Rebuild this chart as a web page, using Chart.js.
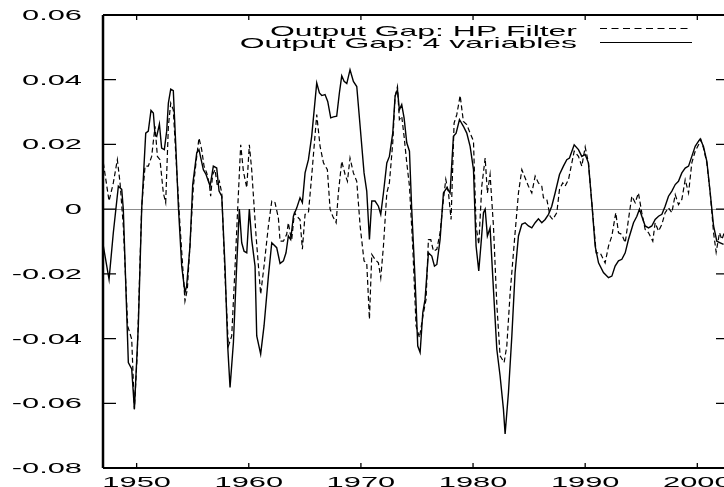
<!DOCTYPE html>
<html>
<head>
<meta charset="utf-8">
<script src="https://cdn.jsdelivr.net/npm/chart.js@4/dist/chart.umd.min.js"></script>
<style>
  html, body { margin: 0; padding: 0; background: #fff; }
  #wrap { width: 724px; height: 487px; position: relative; }
</style>
</head>
<body>
<div id="wrap"><canvas id="gapChart"></canvas></div>
<script>
// year ticks and gap ticks on the axes
const yearTicks = [1950, 1960, 1970, 1980, 1990, 2000];
const gapTicks = [0.06, 0.04, 0.02, 0, -0.02, -0.04, -0.06, -0.08];
const gapTickLabels = ["0.06", "0.04", "0.02", "0", "-0.02", "-0.04", "-0.06", "-0.08"];
const seriesNames = ["Output Gap: HP Filter", "Output Gap: 4 variables"];

// Output gap, HP filter (dashed)
const hpYears = [1947.03,1947.54,1947.92,1948.28,1948.52,1948.81,1949.20,1949.56,1949.80,1950.06,1950.45,1950.75,1951.04,1951.34,1951.64,1951.85,1952.08,1952.38,1952.59,1952.83,1953.04,1953.27,1953.57,1953.87,1954.31,1954.52,1954.82,1955.06,1955.36,1955.56,1955.80,1956.01,1956.25,1956.49,1956.60,1956.78,1956.99,1957.20,1957.38,1957.59,1957.88,1958.18,1958.48,1958.78,1959.01,1959.28,1959.52,1959.82,1960.05,1960.26,1960.65,1961.06,1961.36,1961.75,1962.05,1962.34,1962.64,1962.79,1963.09,1963.38,1963.53,1963.68,1963.83,1964.07,1964.28,1964.57,1964.78,1965.02,1965.32,1965.61,1966.06,1966.36,1966.66,1967.01,1967.25,1967.49,1967.79,1967.99,1968.29,1968.59,1968.80,1969.03,1969.33,1969.63,1969.93,1970.28,1970.52,1970.76,1970.97,1971.26,1971.56,1971.77,1972.01,1972.31,1972.54,1972.84,1973.05,1973.26,1973.43,1973.64,1973.85,1974.09,1974.33,1974.62,1974.92,1975.22,1975.58,1975.81,1976.02,1976.23,1976.47,1976.77,1977.06,1977.36,1977.57,1977.81,1978.04,1978.31,1978.55,1978.85,1979.14,1979.44,1979.74,1980.04,1980.27,1980.51,1980.78,1981.08,1981.28,1981.52,1981.82,1982.12,1982.41,1982.77,1983.01,1983.31,1983.75,1984.05,1984.35,1984.64,1984.94,1985.24,1985.54,1985.83,1986.13,1986.28,1986.58,1986.87,1987.11,1987.47,1987.71,1988.00,1988.21,1988.51,1989.02,1989.40,1989.70,1990.00,1990.29,1990.59,1990.98,1991.34,1991.78,1992.08,1992.38,1992.73,1992.97,1993.27,1993.57,1993.86,1994.16,1994.46,1994.75,1995.05,1995.35,1995.65,1996.03,1996.24,1996.54,1996.84,1997.13,1997.43,1997.73,1998.03,1998.32,1998.62,1998.92,1999.22,1999.51,1999.81,2000.11,2000.32,2000.55,2000.85,2001.15,2001.45,2001.68,2001.98,2002.19,2002.40];
const hpGap = [0.0143,0.0025,0.0081,0.0153,0.0081,-0.0052,-0.0361,-0.0402,-0.0618,-0.0443,0.0009,0.0133,0.0133,0.0163,0.0256,0.0163,0.0153,0.0050,0.0020,0.0256,0.0328,0.0307,0.0122,-0.0052,-0.0284,-0.0248,-0.0073,0.0071,0.0163,0.0220,0.0184,0.0133,0.0112,0.0076,0.0040,0.0107,0.0122,0.0071,0.0086,0.0050,-0.0207,-0.0423,-0.0392,-0.0176,0.0000,0.0199,0.0117,0.0066,0.0199,0.0122,-0.0083,-0.0263,-0.0176,-0.0052,0.0025,0.0020,-0.0027,-0.0099,-0.0099,-0.0078,-0.0042,-0.0073,-0.0094,-0.0011,-0.0022,-0.0032,-0.0124,-0.0016,-0.0011,0.0102,0.0292,0.0194,0.0143,0.0122,0.0000,-0.0022,-0.0042,0.0050,0.0148,0.0107,0.0086,0.0158,0.0112,0.0086,-0.0052,-0.0160,-0.0166,-0.0340,-0.0140,-0.0155,-0.0166,-0.0212,-0.0114,0.0050,0.0081,0.0205,0.0349,0.0379,0.0277,0.0287,0.0225,0.0143,0.0071,-0.0114,-0.0361,-0.0397,-0.0320,-0.0279,-0.0094,-0.0094,-0.0130,-0.0124,-0.0073,0.0030,0.0092,0.0050,-0.0032,0.0266,0.0292,0.0351,0.0271,0.0261,0.0235,0.0210,-0.0052,-0.0109,0.0071,0.0158,0.0050,0.0107,-0.0052,-0.0294,-0.0453,-0.0474,-0.0423,-0.0258,-0.0073,0.0050,0.0122,0.0097,0.0071,0.0050,0.0102,0.0081,0.0071,0.0035,0.0030,-0.0022,-0.0032,-0.0011,0.0061,0.0081,0.0071,0.0091,0.0179,0.0163,0.0133,0.0192,0.0143,0.0020,-0.0135,-0.0135,-0.0166,-0.0114,-0.0083,-0.0011,-0.0073,-0.0078,-0.0104,-0.0032,0.0040,0.0020,0.0050,-0.0011,-0.0063,-0.0073,-0.0099,-0.0042,-0.0068,-0.0047,-0.0011,0.0004,-0.0011,0.0045,0.0014,0.0030,0.0091,0.0050,0.0143,0.0179,0.0199,0.0215,0.0189,0.0143,0.0050,-0.0073,-0.0133,-0.0073,-0.0094,-0.0073];

// Output gap, 4 variables (solid)
const fourVarYears = [1947.03,1947.54,1947.92,1948.37,1948.67,1948.81,1949.26,1949.56,1949.80,1950.15,1950.45,1950.81,1951.04,1951.28,1951.49,1951.64,1951.79,1952.03,1952.23,1952.47,1952.68,1952.83,1953.04,1953.27,1953.48,1953.72,1954.02,1954.31,1954.46,1954.76,1955.00,1955.36,1955.56,1955.95,1956.19,1956.55,1956.84,1957.14,1957.35,1957.59,1957.88,1958.12,1958.33,1958.63,1958.92,1959.16,1959.37,1959.58,1959.82,1960.05,1960.26,1960.56,1960.71,1961.06,1961.36,1961.75,1962.05,1962.49,1962.79,1963.09,1963.32,1963.53,1963.74,1963.98,1964.28,1964.57,1964.78,1965.02,1965.32,1965.61,1966.06,1966.30,1966.51,1966.80,1967.04,1967.31,1967.55,1967.84,1968.08,1968.29,1968.50,1968.74,1969.03,1969.33,1969.63,1969.93,1970.28,1970.52,1970.76,1970.97,1971.26,1971.56,1971.77,1972.01,1972.31,1972.54,1972.84,1973.05,1973.26,1973.43,1973.64,1973.85,1974.09,1974.33,1974.53,1974.83,1975.07,1975.28,1975.52,1975.72,1976.02,1976.32,1976.56,1976.77,1977.06,1977.36,1977.66,1977.95,1978.25,1978.49,1978.79,1979.14,1979.44,1979.74,1980.04,1980.27,1980.51,1980.72,1980.93,1981.08,1981.28,1981.52,1981.82,1982.12,1982.41,1982.71,1982.86,1983.16,1983.46,1983.75,1984.05,1984.35,1984.64,1984.94,1985.24,1985.54,1985.83,1986.13,1986.43,1986.73,1987.02,1987.32,1987.71,1988.06,1988.36,1988.60,1989.02,1989.40,1989.70,1990.00,1990.29,1990.59,1990.89,1991.19,1991.63,1992.08,1992.38,1992.67,1992.97,1993.27,1993.57,1993.86,1994.31,1994.61,1994.84,1995.05,1995.35,1995.65,1995.94,1996.24,1996.54,1996.84,1997.13,1997.43,1997.73,1998.03,1998.32,1998.62,1998.92,1999.22,1999.51,1999.81,2000.11,2000.26,2000.55,2000.85,2001.15,2001.45,2001.74,2002.04,2002.34];
const fourVarGap = [-0.0114,-0.0217,-0.0073,0.0071,0.0061,0.0000,-0.0474,-0.0494,-0.0618,-0.0361,0.0000,0.0235,0.0241,0.0305,0.0297,0.0230,0.0225,0.0263,0.0189,0.0184,0.0241,0.0328,0.0371,0.0366,0.0205,0.0009,-0.0176,-0.0258,-0.0237,-0.0114,0.0076,0.0174,0.0184,0.0122,0.0107,0.0071,0.0133,0.0127,0.0056,0.0040,-0.0176,-0.0423,-0.0551,-0.0412,-0.0176,0.0000,-0.0104,-0.0130,-0.0135,0.0000,-0.0094,-0.0176,-0.0392,-0.0448,-0.0361,-0.0207,-0.0104,-0.0119,-0.0168,-0.0160,-0.0135,-0.0083,-0.0094,-0.0022,0.0004,0.0035,0.0020,0.0112,0.0153,0.0225,0.0390,0.0359,0.0351,0.0354,0.0333,0.0282,0.0285,0.0287,0.0359,0.0412,0.0395,0.0388,0.0431,0.0395,0.0379,0.0256,0.0112,0.0056,-0.0094,0.0025,0.0025,0.0009,-0.0016,0.0050,0.0143,0.0163,0.0235,0.0349,0.0369,0.0307,0.0323,0.0282,0.0205,0.0179,0.0000,-0.0217,-0.0423,-0.0443,-0.0320,-0.0279,-0.0135,-0.0145,-0.0176,-0.0171,-0.0094,0.0050,0.0066,0.0050,0.0225,0.0235,0.0277,0.0256,0.0235,0.0194,0.0122,-0.0114,-0.0191,-0.0104,-0.0011,0.0000,-0.0083,-0.0058,-0.0248,-0.0433,-0.0515,-0.0618,-0.0695,-0.0566,-0.0392,-0.0196,-0.0083,-0.0047,-0.0042,-0.0052,-0.0058,-0.0042,-0.0030,-0.0042,-0.0032,-0.0016,0.0009,0.0050,0.0107,0.0133,0.0153,0.0158,0.0199,0.0184,0.0163,0.0169,0.0143,0.0020,-0.0114,-0.0166,-0.0196,-0.0212,-0.0207,-0.0176,-0.0160,-0.0155,-0.0135,-0.0094,-0.0042,-0.0022,0.0000,-0.0022,-0.0052,-0.0058,-0.0052,-0.0032,-0.0022,-0.0016,0.0009,0.0040,0.0056,0.0076,0.0086,0.0112,0.0127,0.0133,0.0163,0.0194,0.0210,0.0217,0.0194,0.0148,0.0050,-0.0052,-0.0099,-0.0104,-0.0109];

const TICK_FONT = '14px "Liberation Sans", Arial, sans-serif';
const KEY_FONT = '15px "Liberation Sans", Arial, sans-serif';

// gnuplot-like wide text
function wideText(ctx, text, x, y, align, sx) {
    ctx.save();
    ctx.translate(x, y);
    ctx.scale(sx, 1);
    ctx.textAlign = align;
    ctx.textBaseline = "alphabetic";
    ctx.fillText(text, 0, 0);
    ctx.restore();
}

const framePlugin = {
    id: "frame",
    beforeDatasetsDraw(chart) {
        const { ctx, chartArea: a, scales: { y } } = chart;
        const y0 = Math.round(y.getPixelForValue(0)) + 0.5;
        ctx.save();
        ctx.strokeStyle = "#8c8c8c";
        ctx.lineWidth = 1;
        ctx.beginPath();
        ctx.moveTo(a.left, y0);
        ctx.lineTo(a.right, y0);
        ctx.stroke();
        ctx.restore();
    },
    afterDraw(chart) {
        const { ctx, chartArea: a, scales: { x, y } } = chart;
        ctx.save();
        ctx.strokeStyle = "#000";
        ctx.fillStyle = "#000";

        // frame (right side falls off the picture)
        ctx.lineWidth = 2.5;
        ctx.beginPath();
        ctx.moveTo(a.left, a.top);
        ctx.lineTo(a.left, a.bottom);
        ctx.stroke();
        ctx.lineWidth = 1.8;
        ctx.beginPath();
        ctx.moveTo(a.left, a.top);
        ctx.lineTo(a.right, a.top);
        ctx.moveTo(a.left, a.bottom);
        ctx.lineTo(a.right, a.bottom);
        ctx.stroke();

        // tick marks
        ctx.lineWidth = 1.3;
        ctx.beginPath();
        yearTicks.forEach(yr => {
            const px = x.getPixelForValue(yr);
            ctx.moveTo(px, a.bottom);
            ctx.lineTo(px, a.bottom - 5);
            ctx.moveTo(px, a.top);
            ctx.lineTo(px, a.top + 5);
        });
        gapTicks.forEach(v => {
            const py = y.getPixelForValue(v);
            ctx.moveTo(a.left, py);
            ctx.lineTo(a.left + 13, py);
            ctx.moveTo(a.right, py);
            ctx.lineTo(a.right - 8, py);
        });
        ctx.stroke();

        // tick labels, stretched sideways like the original
        ctx.font = TICK_FONT;
        const tickSx = 60 / ctx.measureText("0.06").width;
        gapTicks.forEach((v, i) => {
            wideText(ctx, gapTickLabels[i], 82, y.getPixelForValue(v) + 5, "right", tickSx);
        });
        yearTicks.forEach(yr => {
            wideText(ctx, String(yr), x.getPixelForValue(yr), 486.5, "center", tickSx);
        });

        // legend
        ctx.font = KEY_FONT;
        const keySx = 307 / ctx.measureText(seriesNames[0]).width;
        wideText(ctx, seriesNames[0], 577, 36, "right", keySx);
        wideText(ctx, seriesNames[1], 577, 47.5, "right", keySx);
        ctx.lineWidth = 1;
        ctx.setLineDash([7, 4.5]);
        ctx.beginPath();
        ctx.moveTo(600, 28.5);
        ctx.lineTo(692, 28.5);
        ctx.stroke();
        ctx.setLineDash([]);
        ctx.beginPath();
        ctx.moveTo(600, 42.5);
        ctx.lineTo(692, 42.5);
        ctx.stroke();
        ctx.restore();
    }
};

const toPoints = (xs, ys) => xs.map((v, i) => ({ x: v, y: ys[i] }));

new Chart(document.getElementById("gapChart"), {
    type: "line",
    data: {
        datasets: [
            {
                label: seriesNames[0],
                data: toPoints(hpYears, hpGap),
                borderColor: "#000",
                borderWidth: 1.2,
                borderDash: [5, 3],
                pointRadius: 0,
                tension: 0
            },
            {
                label: seriesNames[1],
                data: toPoints(fourVarYears, fourVarGap),
                borderColor: "#000",
                borderWidth: 1.4,
                pointRadius: 0,
                tension: 0
            }
        ]
    },
    options: {
        responsive: true,
        maintainAspectRatio: false,
        animation: false,
        devicePixelRatio: 1,
        layout: { padding: { left: 103, top: 15, right: 0, bottom: 19 } },
        plugins: { legend: { display: false }, tooltip: { enabled: false } },
        scales: {
            x: { type: "linear", min: 1947, max: 2002.38, display: false },
            y: { min: -0.08, max: 0.06, display: false }
        }
    },
    plugins: [framePlugin]
});
</script>
</body>
</html>
